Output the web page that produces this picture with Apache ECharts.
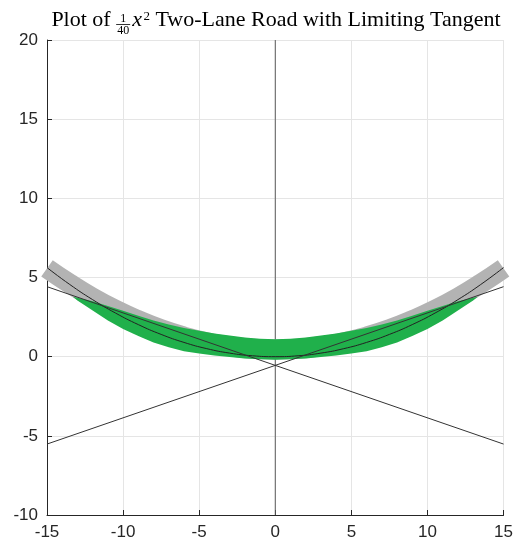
<!DOCTYPE html>
<html><head><meta charset="utf-8">
<script src="https://cdn.jsdelivr.net/npm/echarts@6/dist/echarts.min.js"></script>
<style>html,body{margin:0;padding:0;background:#fff}#c{width:516px;height:548px}</style>
</head><body><div id="c"></div>
<script>
// ---- Data ----
const xTicks = [-15, -10, -5, 0, 5, 10, 15];
const yTicks = [-10, -5, 0, 5, 10, 15, 20];
// center line (y = x^2/40)
const centerX = [-15, -13.5, -12, -10.5, -9, -7.5, -6, -4.5, -3, -1.5, 0, 1.5, 3, 4.5, 6, 7.5, 9, 10.5, 12, 13.5, 15];
const centerY = [5.625, 4.556, 3.6, 2.756, 2.025, 1.406, 0.9, 0.506, 0.225, 0.056, 0, 0.056, 0.225, 0.506, 0.9, 1.406, 2.025, 2.756, 3.6, 4.556, 5.625];
// outer lane (gray band) centre
const grayX = [-15, -13.5, -12, -10.5, -9, -7.5, -6, -4.5, -3, -1.5, 0, 1.5, 3, 4.5, 6, 7.5, 9, 10.5, 12, 13.5, 15];
const grayY = [5.58, 4.61, 3.73, 2.96, 2.30, 1.73, 1.27, 0.91, 0.66, 0.50, 0.45, 0.50, 0.66, 0.91, 1.27, 1.73, 2.30, 2.96, 3.73, 4.61, 5.58];
// inner lane (green band): upper and lower edges
const greenX     = [-13.3, -13, -12, -11, -10, -9, -8, -7, -6, -5, -4, -3, -2, -1, 0, 1, 2, 3, 4, 5, 6, 7, 8, 9, 10, 11, 12, 13, 13.3];
const greenUpper = [3.79, 3.72, 3.50, 3.20, 2.90, 2.58, 2.28, 2.03, 1.81, 1.63, 1.47, 1.33, 1.21, 1.13, 1.10, 1.13, 1.21, 1.33, 1.47, 1.63, 1.81, 2.03, 2.28, 2.58, 2.90, 3.20, 3.50, 3.72, 3.79];
const greenLower = [3.79, 3.55, 2.92, 2.28, 1.75, 1.30, 0.90, 0.60, 0.35, 0.20, 0.08, -0.02, -0.11, -0.17, -0.19, -0.17, -0.11, -0.02, 0.08, 0.20, 0.35, 0.60, 0.90, 1.30, 1.75, 2.28, 2.92, 3.55, 3.79];
// limiting tangents
const tan1X = [-15, 15], tan1Y = [4.42, -5.52];
const tan2X = [-15, 15], tan2Y = [-5.52, 4.42];
// vertical line at x = 0
const zeroX = [0, 0], zeroY = [-10, 20];

const zip = (a, b) => a.map((v, i) => [v, b[i]]);
const chart = echarts.init(document.getElementById('c'));
const axisCol = '#262626';
const lbl = {fontFamily: 'Liberation Sans, Arial, sans-serif', fontSize: 17, color: axisCol};
function lineS(data, color, width, z, extra) {
  return Object.assign({type: 'line', data: data, showSymbol: false, symbol: 'none', clip: false, z: z,
    lineStyle: {color: color, width: width, cap: 'butt'}, silent: true, animation: false}, extra || {});
}

// ---- title layout (measured) ----
const serif = 'Liberation Serif, Times New Roman, serif';
const cv = document.createElement('canvas').getContext('2d');
function tw(t, f) { cv.font = f; return cv.measureText(t).width; }
const tSize = 22, sSize = 12, pSize = 13;
const fMain = tSize + 'px ' + serif, fIt = 'italic ' + tSize + 'px ' + serif;
const fSmall = sSize + 'px ' + serif, fSup = pSize + 'px ' + serif;
const wPlot = tw('Plot of', fMain), wSp = tw(' ', fMain);
const wFrac = tw('40', fSmall) + 2, wX = tw('x', fIt), wSup = tw('2', fSup);
const wRest = tw('Two-Lane Road with Limiting Tangent', fMain);
const total = wPlot + wSp + wFrac + 2 + wX + 1.5 + wSup + wSp + wRest;
let tx = 276 - total / 2;
const base = 28;
// place text by its alphabetic baseline (middle of em box ~0.34em above baseline)
function txt(t, x, baseline, font, size, align) {
  return {type: 'text', x: x, y: baseline - 0.34 * size,
    style: {text: t, font: font, fill: '#000', align: align || 'left', verticalAlign: 'middle'}};
}
const g = [];
g.push(txt('Plot of', tx, base, fMain, tSize));
tx += wPlot + wSp;
const fc = tx + wFrac / 2;
g.push(txt('1', fc, 22.5, fSmall, sSize, 'center'));
g.push({type: 'line', shape: {x1: tx, y1: 24.5, x2: tx + wFrac, y2: 24.5}, style: {stroke: '#000', lineWidth: 0.8}});
g.push(txt('40', fc, 34.5, fSmall, sSize, 'center'));
tx += wFrac + 2;
g.push(txt('x', tx, base, fIt, tSize));
tx += wX + 1.5;
g.push(txt('2', tx, 20.5, fSup, pSize));
tx += wSup + wSp;
g.push(txt('Two-Lane Road with Limiting Tangent', tx, base, fMain, tSize));

chart.setOption({
  animation: false,
  grid: {left: 47, right: 11, top: 40, bottom: 33, containLabel: false},
  xAxis: {type: 'value', min: xTicks[0], max: xTicks[xTicks.length - 1], interval: 5,
    axisLine: {show: true, onZero: false, lineStyle: {color: axisCol, width: 1}},
    axisTick: {show: true, inside: true, length: 5, lineStyle: {color: axisCol}},
    axisLabel: Object.assign({margin: 9}, lbl),
    splitLine: {show: true, lineStyle: {color: '#e5e5e5', width: 1}}},
  yAxis: {type: 'value', min: yTicks[0], max: yTicks[yTicks.length - 1], interval: 5,
    axisLine: {show: true, onZero: false, lineStyle: {color: axisCol, width: 1}},
    axisTick: {show: true, inside: true, length: 5, lineStyle: {color: axisCol}},
    axisLabel: Object.assign({margin: 9}, lbl),
    splitLine: {show: true, lineStyle: {color: '#e5e5e5', width: 1}}},
  series: [
    lineS(zip(zeroX, zeroY), '#5a5a5a', 1, 2),
    lineS(zip(grayX, grayY), '#b3b3b3', 20, 3, {smooth: true}),
    {type: 'custom', z: 4, silent: true, animation: false, clip: false,
      data: [0],
      renderItem: function (params, api) {
        const pts = [];
        for (let i = 0; i < greenX.length; i++) pts.push(api.coord([greenX[i], greenUpper[i]]));
        for (let i = greenX.length - 1; i >= 0; i--) pts.push(api.coord([greenX[i], greenLower[i]]));
        return {type: 'polygon', shape: {points: pts}, style: {fill: '#20b04b', stroke: null}};
      }},
    lineS(zip(centerX, centerY), '#222222', 1, 5, {smooth: true}),
    lineS(zip(tan1X, tan1Y), '#333333', 1, 6),
    lineS(zip(tan2X, tan2Y), '#333333', 1, 6)
  ],
  graphic: g
});
</script></body></html>
